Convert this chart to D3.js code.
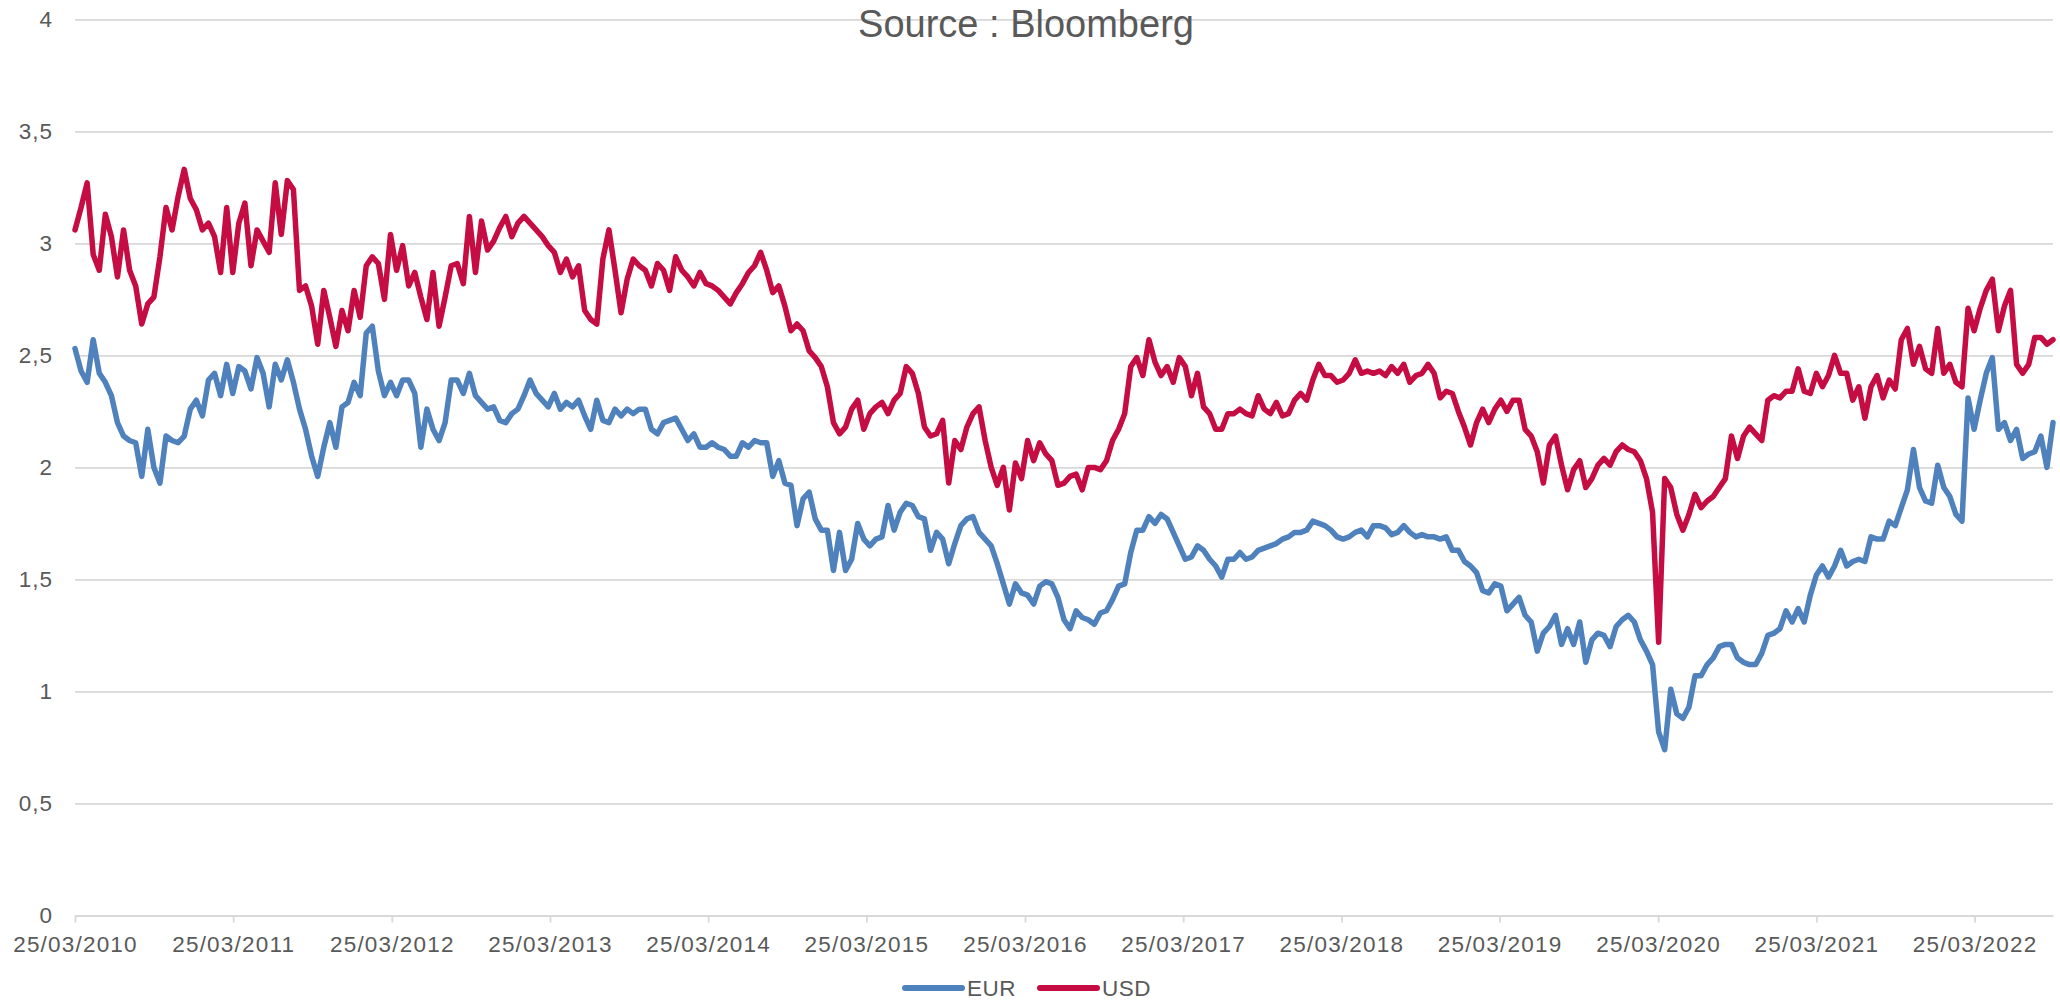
<!DOCTYPE html>
<html>
<head>
<meta charset="utf-8">
<script src="https://cdn.jsdelivr.net/npm/d3@7"></script>
<style>
  body { margin: 0; background: #fff; }
  svg { display: block; font-family: "Liberation Sans", Arial, sans-serif; }
  .tick text { fill: #595959; }
</style>
</head>
<body>
<svg></svg>
<script>
// one observation every 14 days, starting 25/03/2010
var startDate = new Date(2010, 2, 25),
    stepDays = 14

var tickYears = [2010, 2011, 2012, 2013, 2014, 2015, 2016, 2017, 2018, 2019, 2020, 2021, 2022]
var yTicks = [0, 0.5, 1, 1.5, 2, 2.5, 3, 3.5, 4]

var eur = [
    2.53, 2.43, 2.38, 2.57, 2.42, 2.38, 2.32, 2.20, 2.14, 2.12,
    2.11, 1.96, 2.17, 2.00, 1.93, 2.14, 2.12, 2.11, 2.14, 2.26,
    2.30, 2.23, 2.39, 2.42, 2.32, 2.46, 2.33, 2.45, 2.43, 2.35,
    2.49, 2.42, 2.27, 2.46, 2.39, 2.48, 2.38, 2.26, 2.17, 2.05,
    1.96, 2.09, 2.20, 2.09, 2.27, 2.29, 2.38, 2.32, 2.60, 2.63,
    2.43, 2.32, 2.38, 2.32, 2.39,
    2.39, 2.33, 2.09, 2.26, 2.17, 2.12, 2.20, 2.39, 2.39, 2.33,
    2.42, 2.32, 2.29, 2.26, 2.27, 2.21, 2.20, 2.24, 2.26, 2.32,
    2.39, 2.33, 2.30, 2.27, 2.33, 2.26, 2.29, 2.27, 2.30, 2.23,
    2.17, 2.30, 2.21, 2.20, 2.26, 2.23, 2.26, 2.24, 2.26, 2.26,
    2.17, 2.15, 2.20, 2.21, 2.22, 2.17, 2.12, 2.15, 2.09, 2.09,
    2.11, 2.09, 2.08, 2.05,
    2.05, 2.11, 2.09, 2.12, 2.11, 2.11, 1.96, 2.03, 1.93, 1.92,
    1.74, 1.86, 1.89, 1.77, 1.72, 1.72, 1.54, 1.71, 1.54, 1.59,
    1.75, 1.68, 1.65, 1.68, 1.69, 1.83, 1.72, 1.80, 1.84, 1.83,
    1.78, 1.77, 1.63, 1.71, 1.68, 1.57, 1.66, 1.74, 1.77, 1.78,
    1.71, 1.68, 1.65, 1.57, 1.48, 1.39, 1.48, 1.44, 1.43, 1.39,
    1.47, 1.49, 1.48, 1.42,
    1.32, 1.28, 1.36, 1.33, 1.32, 1.30, 1.35, 1.36, 1.41, 1.47,
    1.48, 1.62, 1.72, 1.72, 1.78, 1.75, 1.79, 1.77, 1.71, 1.65,
    1.59, 1.60, 1.65, 1.63, 1.59, 1.56, 1.51, 1.59, 1.59, 1.62,
    1.59, 1.60, 1.63, 1.64, 1.65, 1.66, 1.68, 1.69, 1.71, 1.71,
    1.72, 1.76, 1.75, 1.74, 1.72, 1.69, 1.68, 1.69, 1.71, 1.72,
    1.69, 1.74, 1.74, 1.73, 1.70,
    1.71, 1.74, 1.71, 1.69, 1.70, 1.69, 1.69, 1.68, 1.69, 1.63,
    1.63, 1.58, 1.56, 1.53, 1.45, 1.44, 1.48, 1.47, 1.36, 1.39,
    1.42, 1.34, 1.31, 1.18, 1.26, 1.29, 1.34, 1.21, 1.28, 1.21,
    1.31, 1.13, 1.23, 1.26, 1.25, 1.20, 1.29, 1.32, 1.34, 1.31,
    1.23, 1.18, 1.12, 0.82, 0.74, 1.01, 0.90, 0.88, 0.93, 1.07,
    1.07, 1.12, 1.15, 1.20,
    1.21, 1.21, 1.15, 1.13, 1.12, 1.12, 1.17, 1.25, 1.26, 1.28,
    1.36, 1.31, 1.37, 1.31, 1.43, 1.52, 1.56, 1.51, 1.56, 1.63,
    1.56, 1.58, 1.59, 1.58, 1.69, 1.68, 1.68, 1.76, 1.74, 1.82,
    1.90, 2.08, 1.91, 1.85, 1.84, 2.01, 1.91, 1.87, 1.79, 1.76,
    2.31, 2.17, 2.30, 2.42, 2.49, 2.17, 2.20, 2.12, 2.17, 2.04,
    2.06, 2.07, 2.14, 2.00, 2.20
]

var usd = [
    3.06, 3.16, 3.27, 2.95, 2.88, 3.13, 3.03, 2.85, 3.06, 2.88,
    2.81, 2.64, 2.73, 2.76, 2.94, 3.16, 3.06, 3.21, 3.33, 3.20,
    3.15, 3.06, 3.09, 3.03, 2.87, 3.16, 2.87, 3.09, 3.18, 2.90,
    3.06, 3.01, 2.96, 3.27, 3.04, 3.28, 3.24, 2.79, 2.81, 2.72,
    2.55, 2.79, 2.67, 2.54, 2.70, 2.61, 2.79, 2.67, 2.90, 2.94,
    2.91, 2.75, 3.04, 2.88, 2.99,
    2.81, 2.87, 2.76, 2.66, 2.87, 2.63, 2.76, 2.90, 2.91, 2.82,
    3.12, 2.87, 3.10, 2.97, 3.01, 3.07, 3.12, 3.03, 3.09, 3.12,
    3.09, 3.06, 3.03, 2.99, 2.96, 2.87, 2.93, 2.85, 2.90, 2.70,
    2.66, 2.64, 2.93, 3.06, 2.88, 2.69, 2.84, 2.93, 2.90, 2.88,
    2.81, 2.91, 2.88, 2.79, 2.94, 2.88, 2.85, 2.81, 2.87, 2.82,
    2.81, 2.79, 2.76, 2.73,
    2.78, 2.82, 2.87, 2.90, 2.96, 2.88, 2.78, 2.81, 2.72, 2.61,
    2.64, 2.61, 2.52, 2.49, 2.45, 2.36, 2.20, 2.15, 2.18, 2.26,
    2.30, 2.17, 2.24, 2.27, 2.29, 2.24, 2.30, 2.33, 2.45, 2.42,
    2.33, 2.18, 2.14, 2.15, 2.21, 1.93, 2.12, 2.08, 2.18, 2.24,
    2.27, 2.12, 2.00, 1.92, 2.00, 1.81, 2.02, 1.95, 2.12, 2.03,
    2.11, 2.06, 2.03, 1.92,
    1.93, 1.96, 1.97, 1.90, 2.00, 2.00, 1.99, 2.03, 2.12, 2.17,
    2.24, 2.45, 2.49, 2.41, 2.57, 2.47, 2.41, 2.45, 2.38, 2.49,
    2.45, 2.32, 2.42, 2.27, 2.24, 2.17, 2.17, 2.24, 2.24, 2.26,
    2.24, 2.23, 2.32, 2.26, 2.24, 2.29, 2.23, 2.24, 2.30, 2.33,
    2.30, 2.39, 2.46, 2.41, 2.41, 2.38, 2.39, 2.42, 2.48, 2.42,
    2.43, 2.42, 2.43, 2.41, 2.45,
    2.42, 2.46, 2.38, 2.41, 2.42, 2.46, 2.42, 2.31, 2.34, 2.33,
    2.25, 2.18, 2.10, 2.20, 2.26, 2.20, 2.26, 2.30, 2.25, 2.30,
    2.30, 2.17, 2.14, 2.07, 1.93, 2.10, 2.14, 2.01, 1.90, 1.99,
    2.03, 1.91, 1.95, 2.01, 2.04, 2.01, 2.07, 2.10, 2.08, 2.07,
    2.03, 1.95, 1.80, 1.22, 1.95, 1.91, 1.79, 1.72, 1.79, 1.88,
    1.82, 1.85, 1.87, 1.91,
    1.95, 2.14, 2.04, 2.14, 2.18, 2.15, 2.12, 2.30, 2.32, 2.31,
    2.34, 2.34, 2.44, 2.34, 2.33, 2.42, 2.36, 2.41, 2.50, 2.42,
    2.42, 2.30, 2.36, 2.22, 2.36, 2.41, 2.31, 2.39, 2.35, 2.57,
    2.62, 2.46, 2.54, 2.44, 2.42, 2.62, 2.42, 2.46, 2.38, 2.36,
    2.71, 2.61, 2.71, 2.79, 2.84, 2.61, 2.72, 2.79, 2.46, 2.42,
    2.46, 2.58, 2.58, 2.55, 2.57
]

var seriesNames = ["EUR", "USD"],
    seriesColors = ["#4F81BD", "#C50C43"]

var margin = { left: 75, right: 7, top: 19.3, bottom: 84.5 },
    width = 2060 - margin.left - margin.right,
    height = 1000 - margin.top - margin.bottom

document.addEventListener("DOMContentLoaded", function() {
    var canvas = d3.select("svg").attr("width", 2060).attr("height", 1000)
    var group = canvas.append("g")
        .attr("transform", "translate(" + margin.left + "," + margin.top + ")")

    var dates = eur.map(function(d, i) { return d3.timeDay.offset(startDate, i * stepDays) })
    var series = [eur, usd].map(function(values, k) {
        return {
            name: seriesNames[k],
            color: seriesColors[k],
            points: values.map(function(v, i) { return { date: dates[i], value: v } })
        }
    })

    var xScale = d3.scaleTime().domain([dates[0], dates[dates.length - 1]]).range([0, width])
    var yScale = d3.scaleLinear().domain([0, 4]).range([height, 0])

    // horizontal gridlines + y labels
    var yAxis = d3.axisLeft(yScale)
        .tickValues(yTicks)
        .tickSize(-width)
        .tickPadding(22)
        .tickFormat(function(d) { return String(d).replace(".", ",") })
    var gy = group.append("g").attr("class", "y-axis").call(yAxis)
    gy.select(".domain").remove()
    gy.selectAll("line").attr("stroke", "#D9D9D9").attr("stroke-width", 1.8)
    gy.selectAll("text").style("font-size", "22.5px").attr("letter-spacing", "1px")

    // x axis: date ticks under the zero line
    var xAxis = d3.axisBottom(xScale)
        .tickValues(tickYears.map(function(y) { return new Date(y, 2, 25) }))
        .tickSize(7)
        .tickSizeOuter(0)
        .tickPadding(14)
        .tickFormat(d3.timeFormat("%d/%m/%Y"))
    var gx = group.append("g").attr("class", "x-axis")
        .attr("transform", "translate(0," + height + ")")
        .call(xAxis)
    gx.select(".domain").attr("stroke", "#D9D9D9").attr("stroke-width", 1.8)
    gx.selectAll("line").attr("stroke", "#D9D9D9").attr("stroke-width", 1.8)
    gx.selectAll("text").style("font-size", "22.5px").attr("letter-spacing", "1.2px")

    var line = d3.line()
        .x(function(d) { return xScale(d.date) })
        .y(function(d) { return yScale(d.value) })

    group.selectAll(".series")
        .data(series)
        .enter()
        .append("path")
        .attr("class", "series")
        .attr("d", function(d) { return line(d.points) })
        .attr("fill", "none")
        .attr("stroke", function(d) { return d.color })
        .attr("stroke-width", 5.5)
        .attr("stroke-linejoin", "round")
        .attr("stroke-linecap", "round")

    canvas.append("text")
        .attr("x", 1026)
        .attr("y", 37)
        .attr("text-anchor", "middle")
        .attr("fill", "#595959")
        .style("font-size", "38px")
        .text("Source : Bloomberg")

    // legend
    var legend = canvas.append("g").attr("transform", "translate(905,988)")
    var item = legend.selectAll("g")
        .data(series)
        .enter()
        .append("g")
        .attr("transform", function(d, i) { return "translate(" + (i * 135) + ",0)" })
    item.append("line")
        .attr("x1", 0).attr("x2", 57)
        .attr("stroke", function(d) { return d.color })
        .attr("stroke-width", 6)
        .attr("stroke-linecap", "round")
    item.append("text")
        .attr("x", 62)
        .attr("y", 8)
        .attr("fill", "#595959")
        .style("font-size", "22.5px")
        .attr("letter-spacing", "0.5px")
        .text(function(d) { return d.name })
})
</script>
</body>
</html>
